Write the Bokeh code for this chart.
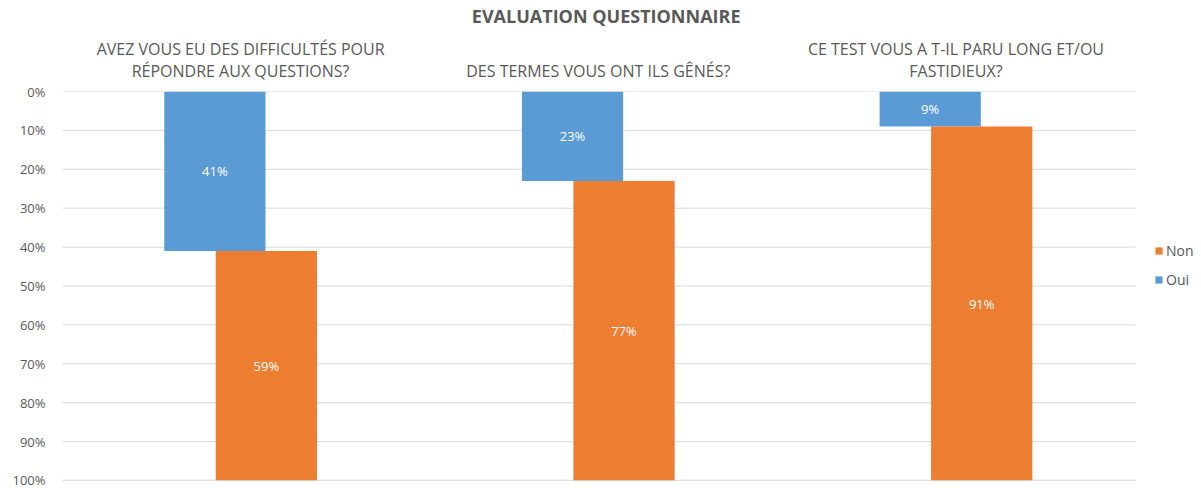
from bokeh.plotting import figure
from bokeh.models import (Range1d, LinearAxis, FixedTicker, NumeralTickFormatter,
                          Legend, LegendItem, ColumnDataSource)
from bokeh.core.properties import value
from bokeh.embed import file_html
from bokeh.resources import INLINE

title = "EVALUATION QUESTIONNAIRE"
categories = [
    "AVEZ VOUS EU DES DIFFICULTÉS POUR\nRÉPONDRE AUX QUESTIONS?",
    "DES TERMES VOUS ONT ILS GÊNÉS?",
    "CE TEST VOUS A T-IL PARU LONG ET/OU\nFASTIDIEUX?",
]
oui = [0.41, 0.23, 0.09]
non = [0.59, 0.77, 0.91]
y_ticks = [0.0, 0.1, 0.2, 0.3, 0.4, 0.5, 0.6, 0.7, 0.8, 0.9, 1.0]

BLUE = "#5B9BD5"
ORANGE = "#ED7D31"
GREY = "#595959"
FONT = "Open Sans"

n = len(categories)
centers = [i + 0.498 for i in range(n)]
off = 0.072
bw = 0.283

CAT_W = 1073          # pixel width occupied by the categories
FW, FH = 1133, 389    # frame also holds the legend area on the right
x_end = n * FW / CAT_W
title_x = n / 2 + 0.02

p = figure(output_backend="svg", toolbar_location=None,
           x_range=Range1d(0, x_end), y_range=Range1d(1.0, 0.0),
           frame_width=FW, frame_height=FH,
           min_border_left=62, min_border_top=10, min_border_bottom=8, min_border_right=0)
p.outline_line_color = None
p.background_fill_color = "white"
p.border_fill_color = "white"

# grid lines limited to the category area
p.segment(x0=[0] * len(y_ticks), x1=[n] * len(y_ticks), y0=y_ticks, y1=y_ticks,
          line_color="#d9d9d9", line_width=1)
p.segment(x0=[0], x1=[n], y0=[y_ticks[-1]], y1=[y_ticks[-1]],
          line_color="#cfcfcf", line_width=1.5)

# bars
src_oui = ColumnDataSource(dict(x=[c - off for c in centers], top=[0] * n, bottom=oui,
                                ymid=[v / 2 for v in oui],
                                lab=[f"{round(v * 100)}%" for v in oui]))
src_non = ColumnDataSource(dict(x=[c + off for c in centers], top=oui,
                                bottom=[o + v for o, v in zip(oui, non)],
                                ymid=[o + v / 2 for o, v in zip(oui, non)],
                                lab=[f"{round(v * 100)}%" for v in non]))
r_oui = p.vbar(x="x", width=bw, top="top", bottom="bottom", source=src_oui,
               fill_color=BLUE, line_color=None)
r_non = p.vbar(x="x", width=bw, top="top", bottom="bottom", source=src_non,
               fill_color=ORANGE, line_color=None)
for s in (src_oui, src_non):
    p.text(x="x", y="ymid", text="lab", source=s, text_align="center",
           text_baseline="middle", text_color="white", text_font=value(FONT),
           text_font_size="13px")

# axes
p.yaxis.ticker = FixedTicker(ticks=y_ticks)
p.yaxis.formatter = NumeralTickFormatter(format="0%")
p.yaxis.axis_line_color = None
p.yaxis.major_tick_line_color = None
p.yaxis.minor_tick_line_color = None
p.yaxis.major_label_text_font = FONT
p.yaxis.major_label_text_font_size = "13px"
p.yaxis.major_label_text_color = GREY
p.yaxis.major_label_standoff = 11

p.xaxis.visible = False


def bare_axis(ticks, labels, size, style, standoff):
    ax = LinearAxis(ticker=FixedTicker(ticks=ticks),
                    major_label_overrides={t: lab for t, lab in zip(ticks, labels)})
    ax.axis_line_color = None
    ax.major_tick_line_color = None
    ax.minor_tick_line_color = None
    ax.major_tick_out = 0
    ax.major_tick_in = 0
    ax.major_label_text_font = FONT
    ax.major_label_text_font_size = size
    ax.major_label_text_font_style = style
    ax.major_label_text_color = GREY
    ax.major_label_standoff = standoff
    return ax


cat_axis = bare_axis(centers, categories, "16px", "normal", 10)
cat_axis.major_label_text_line_height = 1.0
p.add_layout(cat_axis, "above")
title_axis = bare_axis([title_x], [title], "18px", "bold", 7)
p.add_layout(title_axis, "above")

p.xgrid.grid_line_color = None
p.ygrid.grid_line_color = None

legend = Legend(items=[LegendItem(label="Non", renderers=[r_non]),
                       LegendItem(label="Oui", renderers=[r_oui])],
                location=(CAT_W + 19, 191), border_line_color=None,
                background_fill_alpha=0,
                label_text_font=FONT, label_text_font_size="14px",
                label_text_color=GREY, glyph_width=9, glyph_height=9,
                spacing=10, padding=4, margin=0, label_standoff=3,
                label_height=18)
p.add_layout(legend, "center")

open("out.html", "w").write(file_html(p, INLINE))
